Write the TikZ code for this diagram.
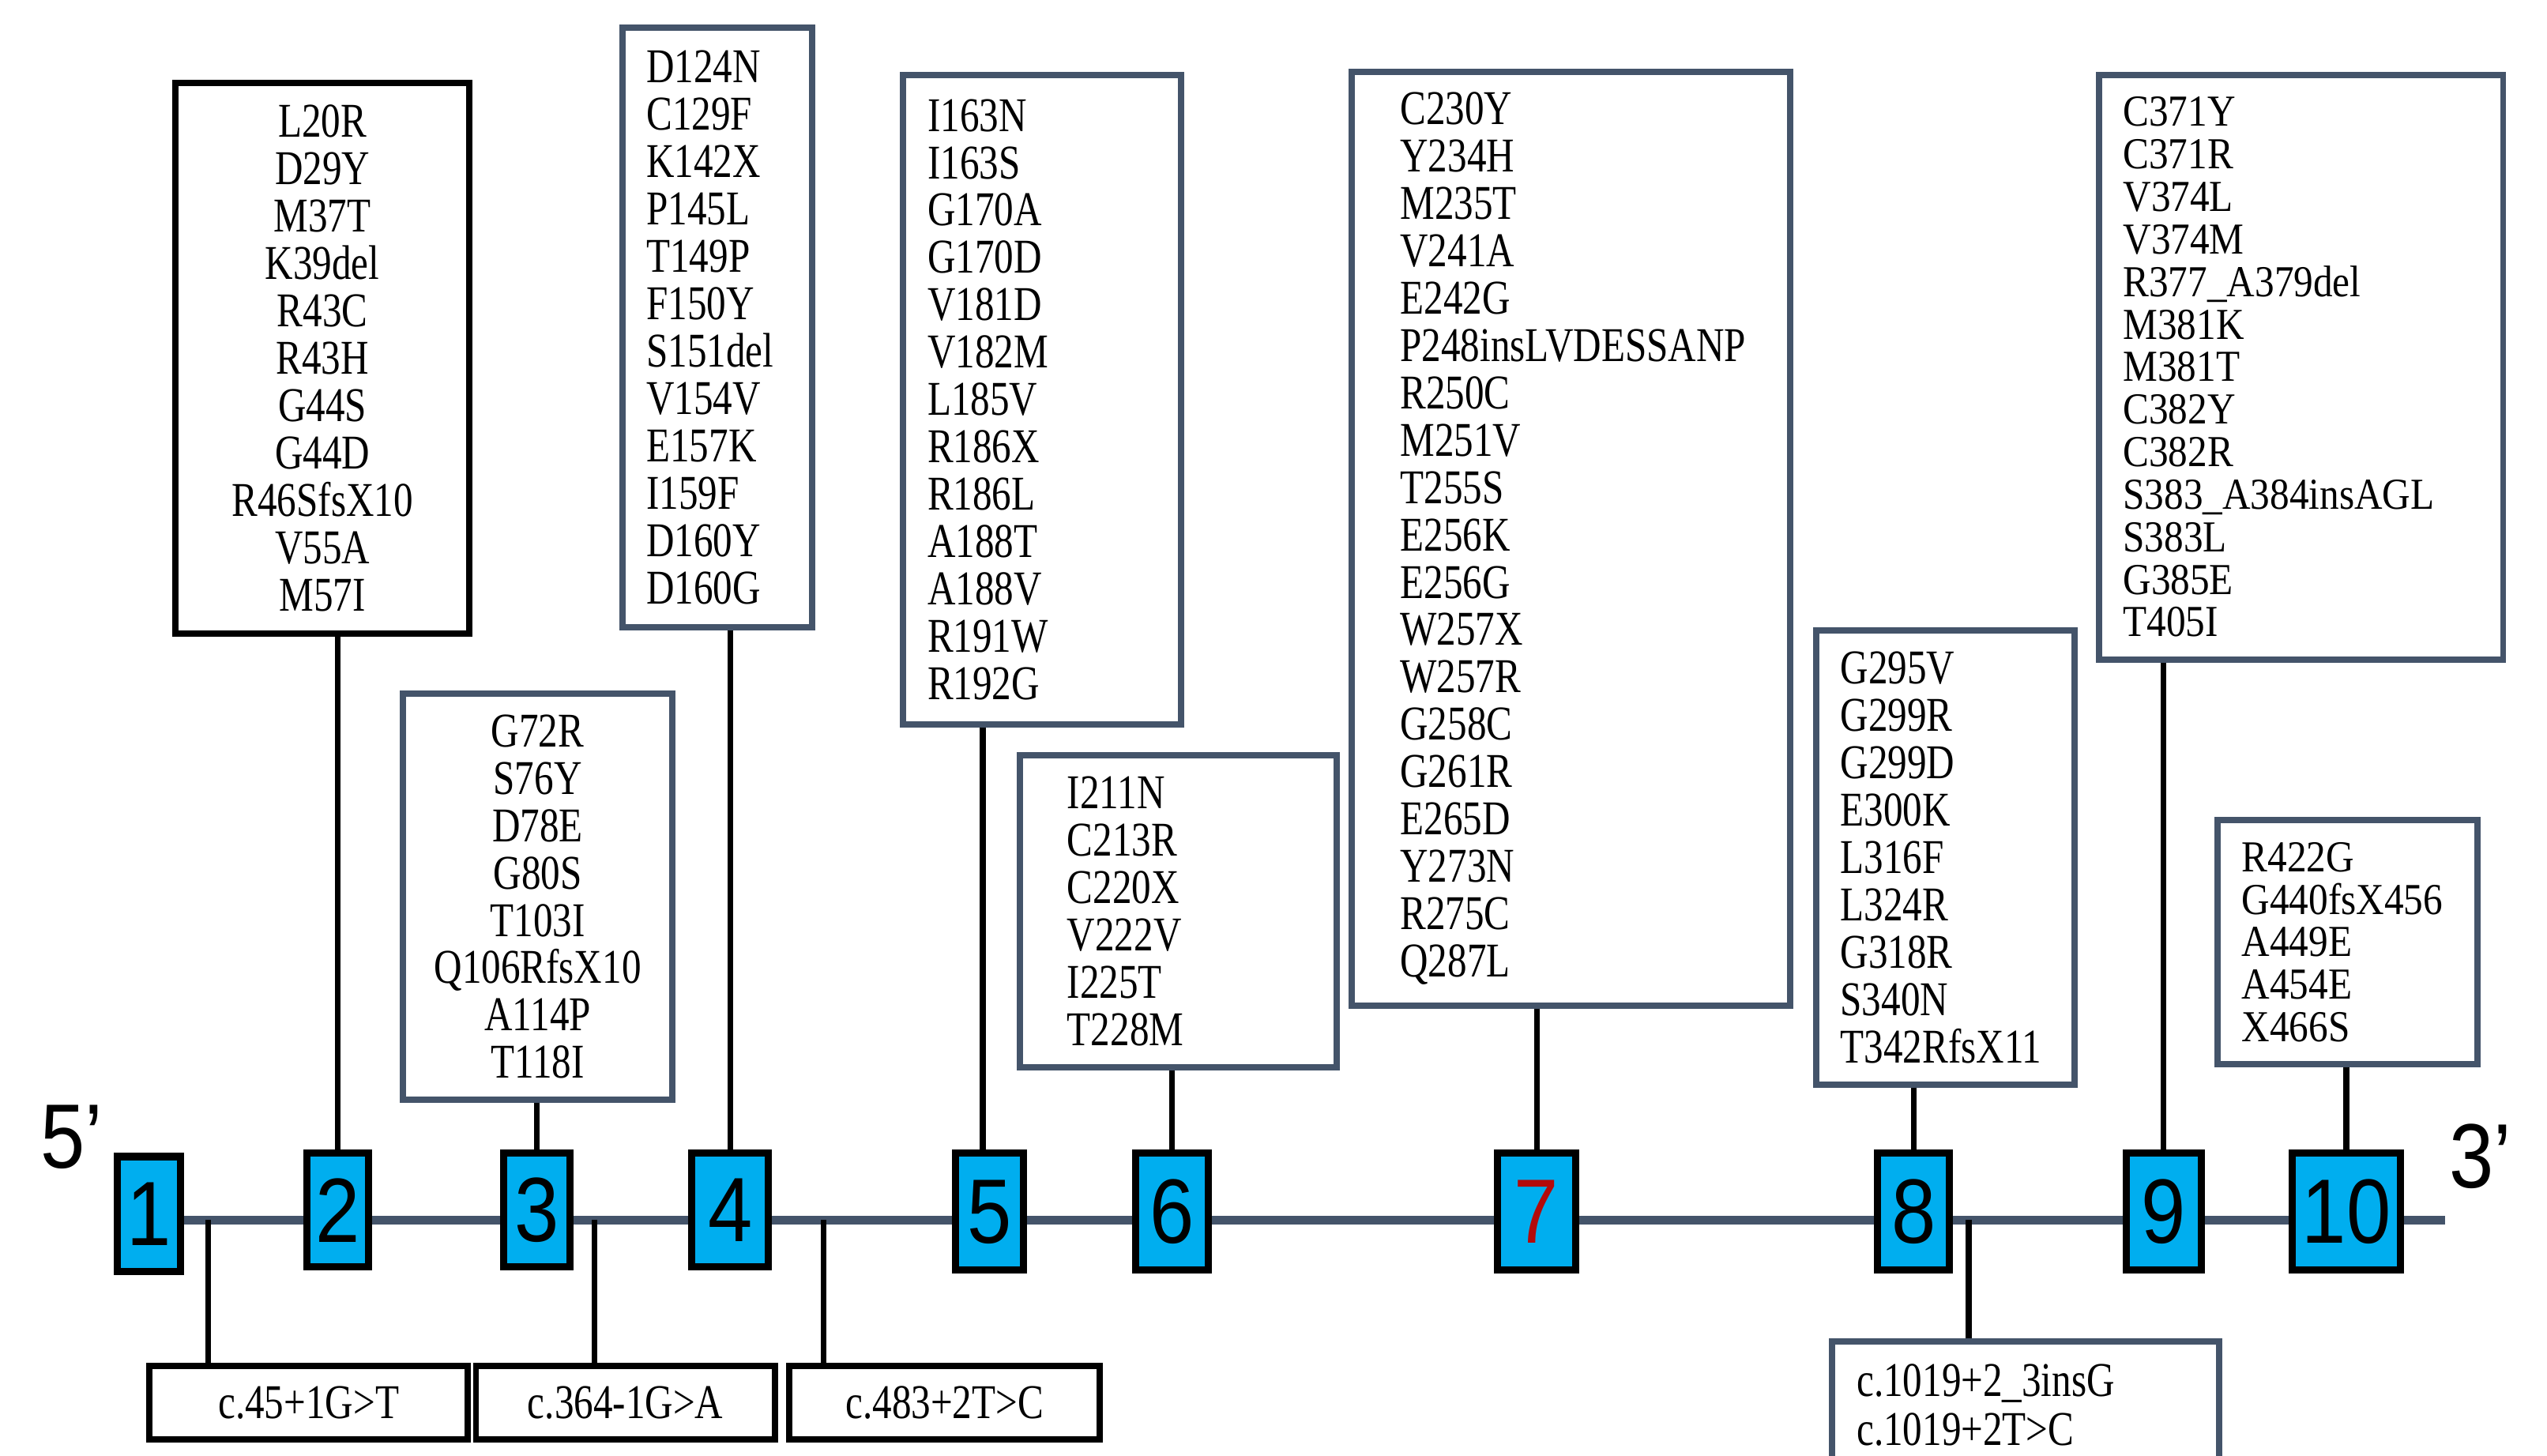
\documentclass[tikz,border=0pt]{standalone}
\usepackage{fontspec}
\setmainfont{Liberation Serif}[FakeStretch=0.8]
\newfontfamily\tightserif{Liberation Serif}[FakeStretch=0.88]
\newfontfamily\exonfont{Liberation Sans}[FakeStretch=0.875]
\definecolor{slate}{RGB}{68,84,106}
\definecolor{exonblue}{RGB}{0,174,239}
\definecolor{exonred}{RGB}{180,10,10}

\begin{document}
\begin{tikzpicture}[x=0.02cm,y=-0.02cm,
  exon/.style={draw=black,line width=2.5pt,fill=exonblue,inner sep=0pt,minimum height=1.4cm,font=\exonfont\fontsize{32}{32}\selectfont},
  endlabel/.style={inner sep=0pt,font=\exonfont\fontsize{32}{32}\selectfont},
  mutbox/.style={draw=slate,line width=2.2pt,fill=white,inner xsep=0.3cm,inner ysep=0pt,align=left,font=\fontsize{17}{16.6}\selectfont},
  tightbox/.style={mutbox,font=\tightserif\fontsize{15.5}{14.9}\selectfont},
  splicebox/.style={draw=black,line width=2.2pt,fill=white,inner sep=0pt,minimum height=0.9cm,font=\fontsize{17}{16.6}\selectfont},
  stem/.style={line width=2pt,black},
  backbone/.style={line width=3pt,slate}]
\useasboundingbox (0,0) rectangle (1568,896);

\node[mutbox,draw=black,align=center,minimum width=3.62cm,text width=3.02cm,minimum height=6.78cm] (m2) at (198.5,220.5) {L20R\\D29Y\\M37T\\K39del\\R43C\\R43H\\G44S\\G44D\\R46SfsX10\\V55A\\M57I};
\node[mutbox,align=center,minimum width=3.32cm,text width=2.72cm,minimum height=5cm] (m3) at (331,552) {G72R\\S76Y\\D78E\\G80S\\T103I\\Q106RfsX10\\A114P\\T118I};
\node[mutbox,minimum width=2.34cm,text width=1.74cm,minimum height=7.38cm] (m4) at (441.5,201.5) {D124N\\C129F\\K142X\\P145L\\T149P\\F150Y\\S151del\\V154V\\E157K\\I159F\\D160Y\\D160G};
\node[mutbox,minimum width=3.42cm,text width=2.82cm,minimum height=8cm] (m5) at (641.5,246) {I163N\\I163S\\G170A\\G170D\\V181D\\V182M\\L185V\\R186X\\R186L\\A188T\\A188V\\R191W\\R192G};
\node[mutbox,inner xsep=0.58cm,minimum width=3.9cm,text width=2.74cm,minimum height=3.84cm] (m6) at (725.5,561) {I211N\\C213R\\C220X\\V222V\\I225T\\T228M};
\node[mutbox,inner xsep=0.6cm,minimum width=5.4cm,text width=4.2cm,minimum height=11.5cm] (m7) at (967,331.5) {C230Y\\Y234H\\M235T\\V241A\\E242G\\P248insLVDESSANP\\R250C\\M251V\\T255S\\E256K\\E256G\\W257X\\W257R\\G258C\\G261R\\E265D\\Y273N\\R275C\\Q287L};
\node[mutbox,minimum width=3.18cm,text width=2.58cm,minimum height=5.6cm] (m8) at (1197.5,528) {G295V\\G299R\\G299D\\E300K\\L316F\\L324R\\G318R\\S340N\\T342RfsX11};
\node[tightbox,minimum width=4.98cm,text width=4.38cm,minimum height=7.2cm] (m9) at (1416.5,226) {C371Y\\C371R\\V374L\\V374M\\R377\_A379del\\M381K\\M381T\\C382Y\\C382R\\S383\_A384insAGL\\S383L\\G385E\\T405I};
\node[tightbox,minimum width=3.2cm,text width=2.6cm,minimum height=3cm] (m10) at (1445,580) {R422G\\G440fsX456\\A449E\\A454E\\X466S};

\coordinate (bbL) at (111,751);
\coordinate (bbR) at (1505,751);
\draw[backbone] (bbL) -- (bbR);

\node[exon,minimum width=0.78cm,minimum height=1.42cm] (e1) at (91.5,747.5) {1};
\node[exon,minimum width=0.76cm] (e2) at (208,745) {2};
\node[exon,minimum width=0.82cm] (e3) at (330.5,745) {3};
\node[exon,minimum width=0.94cm] (e4) at (449.5,745) {4};
\node[exon,minimum width=0.84cm,minimum height=1.44cm] (e5) at (609,746) {5};
\node[exon,minimum width=0.9cm,minimum height=1.44cm] (e6) at (721.5,746) {6};
\node[exon,minimum width=0.96cm,minimum height=1.44cm,text=exonred] (e7) at (946,746) {7};
\node[exon,minimum width=0.88cm,minimum height=1.44cm] (e8) at (1178,746) {8};
\node[exon,minimum width=0.92cm,minimum height=1.44cm] (e9) at (1332,746) {9};
\node[exon,minimum width=1.34cm,minimum height=1.44cm] (e10) at (1444.5,746) {10};

\node[endlabel] (five) at (44,700) {5’};
\node[endlabel] (three) at (1527,712) {3’};

\draw[stem] (e2.north) -- (e2.north |- m2.south);
\draw[stem] (e3.north) -- (e3.north |- m3.south);
\draw[stem] (e4.north) -- (e4.north |- m4.south);
\draw[stem] ([xshift=-0.08cm]e5.north) -- ([xshift=-0.08cm]e5.north |- m5.south);
\draw[stem] (e6.north) -- (e6.north |- m6.south);
\draw[stem] (e7.north) -- (e7.north |- m7.south);
\draw[stem] (e8.north) -- (e8.north |- m8.south);
\draw[stem] (e9.north) -- (e9.north |- m9.south);
\draw[stem] (e10.north) -- (e10.north |- m10.south);

\node[splicebox,minimum width=3.92cm] (b1) at (190,863.5) {c.45+1G>T};
\node[splicebox,minimum width=3.68cm] (b2) at (385,863.5) {c.364-1G>A};
\node[splicebox,minimum width=3.82cm] (b3) at (581.5,863.5) {c.483+2T>C};
\node[mutbox,font=\fontsize{17}{17}\selectfont,minimum width=4.76cm,text width=4.16cm,minimum height=1.56cm] (b4) at (1247,865) {c.1019+2\_3insG\\c.1019+2T>C};

\coordinate (s1) at (128,751);
\coordinate (s2) at (366,751);
\coordinate (s3) at (507,751);
\coordinate (s4) at (1212,751);
\draw[stem] (s1) -- (s1 |- b1.north);
\draw[stem] (s2) -- (s2 |- b2.north);
\draw[stem] (s3) -- (s3 |- b3.north);
\draw[stem] (s4) -- (s4 |- b4.north);
\end{tikzpicture}
\end{document}
